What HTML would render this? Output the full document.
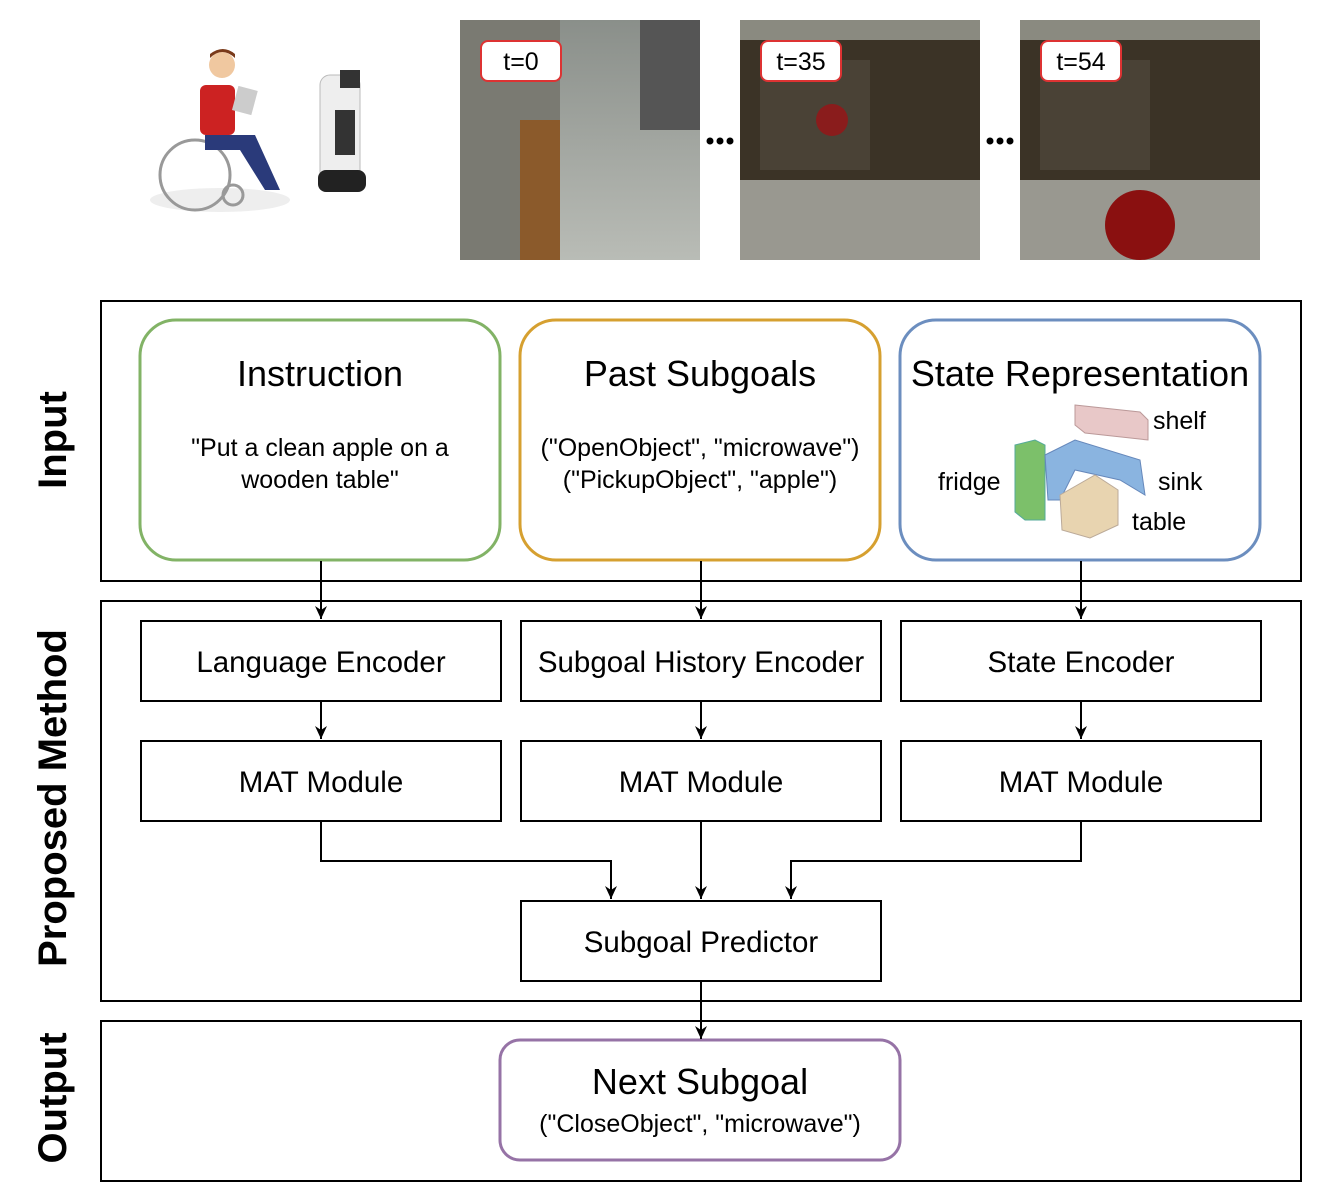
<!DOCTYPE html>
<html><head><meta charset="utf-8"><style>
body{margin:0;background:#fff;}
svg{display:block;font-family:"Liberation Sans",Arial,sans-serif;}
</style></head><body>
<svg width="1320" height="1202" viewBox="0 0 1320 1202" xmlns="http://www.w3.org/2000/svg">
<defs>
<marker id="a" markerWidth="14" markerHeight="14" refX="13" refY="7" orient="auto" markerUnits="userSpaceOnUse">
<path d="M0,1 L13,7 L0,13 L4,7 z" fill="#000"/></marker>
<linearGradient id="floor" x1="0" y1="0" x2="0" y2="1"><stop offset="0" stop-color="#8a8f8a"/><stop offset="1" stop-color="#b9bcb6"/></linearGradient>
</defs>
<g>
<ellipse cx="220" cy="200" rx="70" ry="12" fill="#eee"/>
<circle cx="195" cy="175" r="35" fill="none" stroke="#999" stroke-width="3"/>
<circle cx="233" cy="195" r="10" fill="none" stroke="#999" stroke-width="3"/>
<rect x="200" y="85" width="35" height="50" rx="6" fill="#c22"/>
<circle cx="222" cy="65" r="13" fill="#f0c8a0"/>
<path d="M210 58 q12 -12 25 0 v-4 q-12 -10 -25 0z" fill="#7a3a1a"/>
<path d="M205 135 h50 l25 55 h-15 l-25 -40 h-35z" fill="#2a3a7a"/>
<rect x="235" y="88" width="20" height="25" fill="#ccc" transform="rotate(15 245 100)"/>
<rect x="320" y="75" width="40" height="110" rx="10" fill="#eee" stroke="#bbb"/>
<rect x="340" y="70" width="20" height="18" fill="#333"/>
<rect x="318" y="170" width="48" height="22" rx="8" fill="#222"/>
<rect x="335" y="110" width="20" height="45" fill="#333"/>
</g>
<g>
<rect x="460" y="20" width="240" height="240" fill="url(#floor)"/>
<rect x="460" y="20" width="100" height="240" fill="#7a7a72"/>
<rect x="520" y="120" width="40" height="140" fill="#8b5a2b"/>
<rect x="640" y="20" width="60" height="110" fill="#555"/>
<rect x="740" y="20" width="240" height="240" fill="#8a8a80"/>
<rect x="740" y="40" width="240" height="140" fill="#3b3326"/>
<rect x="760" y="60" width="110" height="110" fill="#4a4236"/>
<rect x="740" y="180" width="240" height="80" fill="#999890"/>
<circle cx="832" cy="120" r="16" fill="#8a1c1c"/>
<rect x="1020" y="20" width="240" height="240" fill="#8a8a80"/>
<rect x="1020" y="40" width="240" height="140" fill="#3b3326"/>
<rect x="1040" y="60" width="110" height="110" fill="#4a4236"/>
<rect x="1020" y="180" width="240" height="80" fill="#999890"/>
<circle cx="1140" cy="225" r="35" fill="#8a1010"/>
<g font-size="25">
<rect x="481" y="41" width="80" height="40" rx="7" fill="#fff" stroke="#d33" stroke-width="2"/><text x="521" y="70" text-anchor="middle">t=0</text>
<rect x="761" y="41" width="80" height="40" rx="7" fill="#fff" stroke="#d33" stroke-width="2"/><text x="801" y="70" text-anchor="middle">t=35</text>
<rect x="1041" y="41" width="80" height="40" rx="7" fill="#fff" stroke="#d33" stroke-width="2"/><text x="1081" y="70" text-anchor="middle">t=54</text>
</g>
<g fill="#000"><circle cx="710" cy="141" r="3.5"/><circle cx="720" cy="141" r="3.5"/><circle cx="730" cy="141" r="3.5"/>
<circle cx="990" cy="141" r="3.5"/><circle cx="1000" cy="141" r="3.5"/><circle cx="1010" cy="141" r="3.5"/></g>
</g>
<g fill="none" stroke="#000" stroke-width="2">
<rect x="101" y="301" width="1200" height="280"/>
<rect x="101" y="601" width="1200" height="400"/>
<rect x="101" y="1021" width="1200" height="160"/>
</g>
<g font-size="40" font-weight="bold" text-anchor="middle">
<text transform="translate(66 440) rotate(-90)">Input</text>
<text transform="translate(66 798) rotate(-90)">Proposed Method</text>
<text transform="translate(66 1098) rotate(-90)">Output</text>
</g>
<g fill="#fff" stroke-width="3">
<rect x="140" y="320" width="360" height="240" rx="36" stroke="#82b366"/>
<rect x="520" y="320" width="360" height="240" rx="36" stroke="#d6a030"/>
<rect x="900" y="320" width="360" height="240" rx="36" stroke="#6c8ebf"/>
<rect x="500" y="1040" width="400" height="120" rx="20" stroke="#9673a6"/>
</g>
<g text-anchor="middle">
<text x="320" y="386" font-size="36">Instruction</text>
<text x="320" y="456" font-size="25">"Put a clean apple on a</text>
<text x="320" y="488" font-size="25">wooden table"</text>
<text x="700" y="386" font-size="36">Past Subgoals</text>
<text x="700" y="456" font-size="25">("OpenObject", "microwave")</text>
<text x="700" y="488" font-size="25">("PickupObject", "apple")</text>
<text x="1080" y="386" font-size="36">State Representation</text>
<text x="700" y="1094" font-size="36">Next Subgoal</text>
<text x="700" y="1132" font-size="25">("CloseObject", "microwave")</text>
</g>
<g>
<polygon points="1075,405 1140,412 1148,420 1148,440 1085,433 1075,425" fill="#e8c8c8" stroke="#b99"/>
<polygon points="1015,445 1035,440 1045,445 1045,520 1025,520 1015,512" fill="#7cc06a" stroke="#5a9"/>
<polygon points="1045,455 1075,440 1140,460 1145,495 1120,480 1075,470 1060,500 1048,500" fill="#8ab4e0" stroke="#68b"/>
<polygon points="1060,495 1095,475 1118,490 1118,525 1090,538 1062,530" fill="#e8d4b0" stroke="#ba9"/>
</g>
<g font-size="25">
<text x="1153" y="429">shelf</text>
<text x="938" y="490">fridge</text>
<text x="1158" y="490">sink</text>
<text x="1132" y="530">table</text>
</g>
<g fill="#fff" stroke="#000" stroke-width="2">
<rect x="141" y="621" width="360" height="80"/><rect x="521" y="621" width="360" height="80"/><rect x="901" y="621" width="360" height="80"/>
<rect x="141" y="741" width="360" height="80"/><rect x="521" y="741" width="360" height="80"/><rect x="901" y="741" width="360" height="80"/>
<rect x="521" y="901" width="360" height="80"/>
</g>
<g font-size="29.5" text-anchor="middle">
<text x="321" y="672">Language Encoder</text>
<text x="701" y="672">Subgoal History Encoder</text>
<text x="1081" y="672">State Encoder</text>
<text x="321" y="792">MAT Module</text>
<text x="701" y="792">MAT Module</text>
<text x="1081" y="792">MAT Module</text>
<text x="701" y="952">Subgoal Predictor</text>
</g>
<g fill="none" stroke="#000" stroke-width="2" marker-end="url(#a)">
<path d="M321 561 V619"/><path d="M701 561 V619"/><path d="M1081 561 V619"/>
<path d="M321 701 V739"/><path d="M701 701 V739"/><path d="M1081 701 V739"/>
<path d="M321 821 V861 H611 V899"/><path d="M701 821 V899"/><path d="M1081 821 V861 H791 V899"/>
<path d="M701 981 V1039"/>
</g>
</svg>
</body></html>
